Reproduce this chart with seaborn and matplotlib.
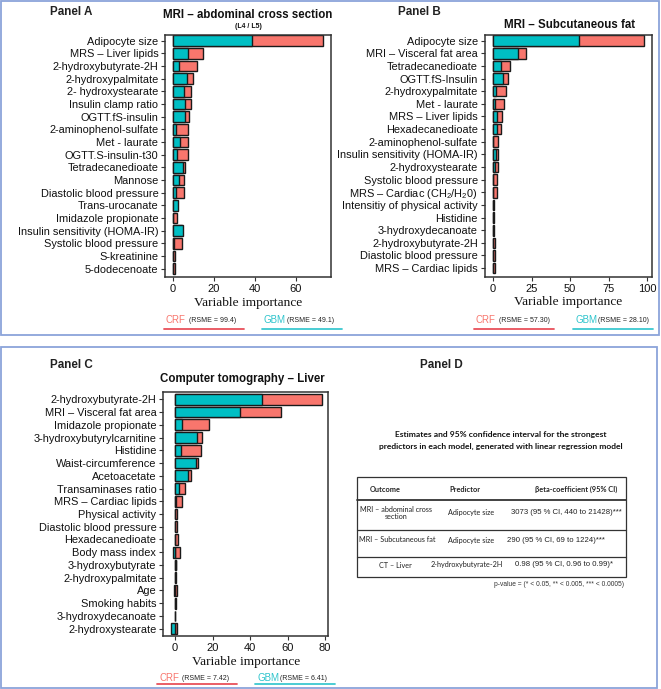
import numpy as np
import pandas as pd
import matplotlib.pyplot as plt
from matplotlib.patches import Rectangle
from matplotlib.lines import Line2D
import seaborn as sns

sns.set_theme(style='white')
plt.rcParams['font.family'] = ['Liberation Sans', 'DejaVu Sans']
plt.rcParams['mathtext.fontset'] = 'custom'
plt.rcParams['mathtext.rm'] = 'Liberation Sans'
plt.rcParams['mathtext.it'] = 'Liberation Sans'

# ---------------- data ----------------
models = ['CRF', 'GBM']

# Panel A : MRI - abdominal cross section
a_vars = ['Adipocyte size', 'MRS – Liver lipids', '2-hydroxybutyrate-2H', '2-hydroxypalmitate',
          '2- hydroxystearate', 'Insulin clamp ratio', 'OGTT.fS-insulin', '2-aminophenol-sulfate',
          'Met - laurate', 'OGTT.S-insulin-t30', 'Tetradecanedioate', 'Mannose',
          'Diastolic blood pressure', 'Trans-urocanate', 'Imidazole propionate',
          'Insulin sensitivity (HOMA-IR)', 'Systolic blood pressure', 'S-kreatinine', '5-dodecenoate']
a_crf = [73.5, 14.6, 12.0, 9.9, 8.9, 8.8, 7.8, 7.6, 7.3, 7.3, 6.0, 5.7, 5.4, 1.5, 2.1, 4.6, 4.4, 1.3, 1.3]
a_gbm = [38.9, 7.6, 3.1, 6.8, 5.5, 5.9, 6.0, 1.5, 3.6, 2.3, 4.9, 2.9, 1.8, 2.6, 0.0, 4.9, 0.8, 0.0, 0.0]
a_rmse = ['99.4', '49.1']

# Panel B : MRI - Subcutaneous fat
b_vars = ['Adipocyte size', 'MRI – Visceral fat area', 'Tetradecanedioate', 'OGTT.fS-Insulin',
          '2-hydroxypalmitate', 'Met - laurate', 'MRS – Liver lipids', 'Hexadecanedioate',
          '2-aminophenol-sulfate', 'Insulin sensitivity (HOMA-IR)', '2-hydroxystearate',
          'Systolic blood pressure', 'MRS – Cardiac (CH$_2$/H$_2$0)', 'Intensitiy of physical activity',
          'Histidine', '3-hydroxydecanoate', '2-hydroxybutyrate-2H', 'Diastolic blood pressure',
          'MRS – Cardiac lipids']
b_crf = [98.1, 21.6, 11.2, 9.7, 8.4, 7.1, 5.8, 5.2, 3.5, 3.5, 3.5, 2.6, 2.4, 0.9, 0.6, 0.6, 1.5, 1.5, 1.1]
b_gbm = [55.9, 16.0, 5.4, 6.7, 1.9, 1.5, 2.4, 2.8, 0.3, 1.9, 1.1, 0.0, 0.0, 0.0, 0.0, 0.0, 0.0, 0.3, 0.3]
b_rmse = ['57.30', '28.10']

# Panel C : Computer tomography - Liver
c_vars = ['2-hydroxybutyrate-2H', 'MRI – Visceral fat area', 'Imidazole propionate',
          '3-hydroxybutyrylcarnitine', 'Histidine', 'Waist-circumference', 'Acetoacetate',
          'Transaminases ratio', 'MRS – Cardiac lipids', 'Physical activity', 'Diastolic blood pressure',
          'Hexadecanedioate', 'Body mass index', '3-hydroxybutyrate', '2-hydroxypalmitate', 'Age',
          'Smoking habits', '3-hydroxydecanoate', '2-hydroxystearate']
c_crf = [78.4, 56.4, 17.9, 14.5, 14.0, 12.0, 8.3, 5.4, 3.6, 1.2, 1.2, 1.5, 2.6, 0.5, 0.3, 1.2, 0.3, 0.1, 1.2]
c_gbm = [46.6, 34.7, 3.8, 11.8, 3.1, 10.9, 7.0, 2.2, 0.6, 0.0, 0.0, 0.0, -1.0, 0.4, 0.2, -0.5, 0.2, 0.0, -2.4]
c_rmse = ['7.42', '6.41']

# Panel D : table
tab_header = ['Outcome', 'Predictor', 'βeta-coefficient (95% CI)']
tab_outcome = ['MRI – abdominal cross\nsection', 'MRI – Subcutaneous fat', 'CT – Liver']
tab_predictor = ['Adipocyte size', 'Adipocyte size', '2-hydroxybutyrate-2H']
tab_beta = ['3073 (95 % CI, 440 to 21428)***', '290 (95 % CI, 69 to 1224)***',
            '0.98 (95 % CI, 0.96 to 0.99)*']

palette = {'CRF': '#F8766D', 'GBM': '#00BFC4'}

W, H = 661, 689
fig = plt.figure(figsize=(W / 100, H / 100), dpi=100)


def fx(x):
    return x / W


def fy(y):
    return 1 - y / H


def add_axes_px(left, right, top, bottom):
    return fig.add_axes([fx(left), fy(bottom), (right - left) / W, (bottom - top) / H])


def importance_panel(ax, names, crf, gbm, xlim, ylim, ticks):
    df = pd.DataFrame({
        'variable': names * 2,
        'importance': crf + gbm,
        'model': ['CRF'] * len(names) + ['GBM'] * len(names),
    })
    sns.barplot(data=df, x='importance', y='variable', hue='model', hue_order=models,
                order=names, palette=palette, dodge=False, width=0.84,
                edgecolor='#1a1a1a', linewidth=1.0, legend=False, ax=ax, saturation=1)
    ax.set_xlim(*xlim)
    ax.set_ylim(*ylim)
    ax.set_xticks(ticks)
    ax.set_ylabel('')
    ax.set_xlabel('Variable importance', family='Liberation Serif', fontsize=9.6,
                  color='#111111', labelpad=2)
    ax.tick_params(axis='y', labelsize=7.9, length=3, width=0.8, color='#333333',
                   colors='#111111', pad=2, left=True)
    ax.tick_params(axis='x', labelsize=8, length=3, width=0.8, color='#333333',
                   colors='#111111', pad=2, bottom=True)
    for s in ax.spines.values():
        s.set_color('#333333')
        s.set_linewidth(1.1)


def legend_row(x_crf, x_gbm, y_text, y_line, rmse):
    for x0, name, col, lcol, r in [(x_crf, 'CRF', '#F8766D', '#E8505B', rmse[0]),
                                   (x_gbm, 'GBM', '#2EC4CC', '#3CC8D0', rmse[1])]:
        fig.text(fx(x0), fy(y_text), name, color=col, fontsize=7, va='center', ha='left')
        fig.text(fx(x0 + 23), fy(y_text), f'(RSME = {r})', color='#222222', fontsize=5,
                 va='center', ha='left')
        fig.add_artist(Line2D([fx(x0 - 2), fx(x0 + 78)], [fy(y_line), fy(y_line)],
                              color=lcol, lw=1.3, transform=fig.transFigure))


# ---------------- panel frames ----------------
for (l, t, r, b) in [(1, 1, 659, 335), (1, 347, 657, 688)]:
    fig.add_artist(Rectangle((fx(l), fy(b)), (r - l) / W, (b - t) / H, fill=False,
                             edgecolor='#8BA4DA', lw=1.3, transform=fig.transFigure))

# ---------------- Panel A ----------------
axA = add_axes_px(165.3, 331, 34.7, 277.3)
importance_panel(axA, a_vars, a_crf, a_gbm, (-3.6, 77.2), (18.68, -0.47), [0, 20, 40, 60])
fig.text(fx(50), fy(12), 'Panel A', fontsize=8.4, fontweight='bold', va='center', color='#222222')
fig.text(fx(248), fy(14.5), 'MRI – abdominal cross section', fontsize=8.3, fontweight='bold',
         ha='center', va='center', color='#111111')
fig.text(fx(248), fy(26.5), '(L4 / L5)', fontsize=5, fontweight='bold', ha='center', va='center',
         color='#111111')
legend_row(166, 264, 320, 328.5, a_rmse)

# ---------------- Panel B ----------------
axB = add_axes_px(484.7, 652, 34.7, 276.7)
importance_panel(axB, b_vars, b_crf, b_gbm, (-5.4, 103.0), (18.68, -0.47), [0, 25, 50, 75, 100])
fig.text(fx(397.7), fy(12), 'Panel B', fontsize=8.4, fontweight='bold', va='center', color='#222222')
fig.text(fx(569.7), fy(25), 'MRI – Subcutaneous fat', fontsize=8.3, fontweight='bold',
         ha='center', va='center', color='#111111')
legend_row(476, 575, 320, 328.5, b_rmse)

# ---------------- Panel C ----------------
axC = add_axes_px(163.3, 328, 392, 636)
importance_panel(axC, c_vars, c_crf, c_gbm, (-6.3, 81.6), (18.57, -0.57), [0, 20, 40, 60, 80])
fig.text(fx(50), fy(365), 'Panel C', fontsize=8.4, fontweight='bold', va='center', color='#222222')
fig.text(fx(242.5), fy(379), 'Computer tomography – Liver', fontsize=8.3, fontweight='bold',
         ha='center', va='center', color='#111111')
legend_row(159, 257, 678, 683.5, c_rmse)

# ---------------- Panel D ----------------
lato = ['Lato', 'DejaVu Sans']
fig.text(fx(420), fy(365), 'Panel D', fontsize=8.4, fontweight='bold', va='center', color='#222222')
fig.text(fx(501), fy(435), 'Estimates and 95% confidence interval for the strongest',
         family=lato, fontsize=6.1, fontweight='bold', ha='center', va='center', color='#111111')
fig.text(fx(501), fy(446), 'predictors in each model, generated with linear regression model',
         family=lato, fontsize=6.1, fontweight='bold', ha='center', va='center', color='#111111')

tl, tr, tt, tb = 357.3, 626, 477.3, 576.7
fig.add_artist(Rectangle((fx(tl), fy(tb)), (tr - tl) / W, (tb - tt) / H, fill=False,
                         edgecolor='#333333', lw=0.9, transform=fig.transFigure))
for yy, lw in [(500, 1.3), (530, 0.9), (557.3, 0.9)]:
    fig.add_artist(Line2D([fx(tl), fx(tr)], [fy(yy), fy(yy)], color='#333333', lw=lw,
                          transform=fig.transFigure))

hdr_x = [385, 464.5, 576.5]
for x0, txt in zip(hdr_x, tab_header):
    fig.text(fx(x0), fy(489), txt, family=lato, fontsize=5.3, fontweight='bold',
             ha='center', va='center', color='#222222')

row_y = [513, 540, 565]
out_x = [396.5, 397.5, 395]
pred_x = [471, 471, 467]
beta_x = [566, 556, 564]
for i in range(3):
    fig.text(fx(out_x[i]), fy(row_y[i]), tab_outcome[i], family=lato,
             fontsize=5.2, ha='center', va='center', color='#222222', linespacing=1.1)
    fig.text(fx(pred_x[i]), fy(row_y[i]), tab_predictor[i], family=lato,
             fontsize=5.2, ha='center', va='center', color='#222222')
    fig.text(fx(beta_x[i]), fy(row_y[i]), tab_beta[i], fontsize=5.6, ha='center', va='center',
             color='#222222')

fig.text(fx(624), fy(585), 'p-value = (* < 0.05, ** < 0.005, *** < 0.0005)', fontsize=4.8,
         ha='right', va='center', color='#333333')

fig.savefig('out.png', dpi=100)
